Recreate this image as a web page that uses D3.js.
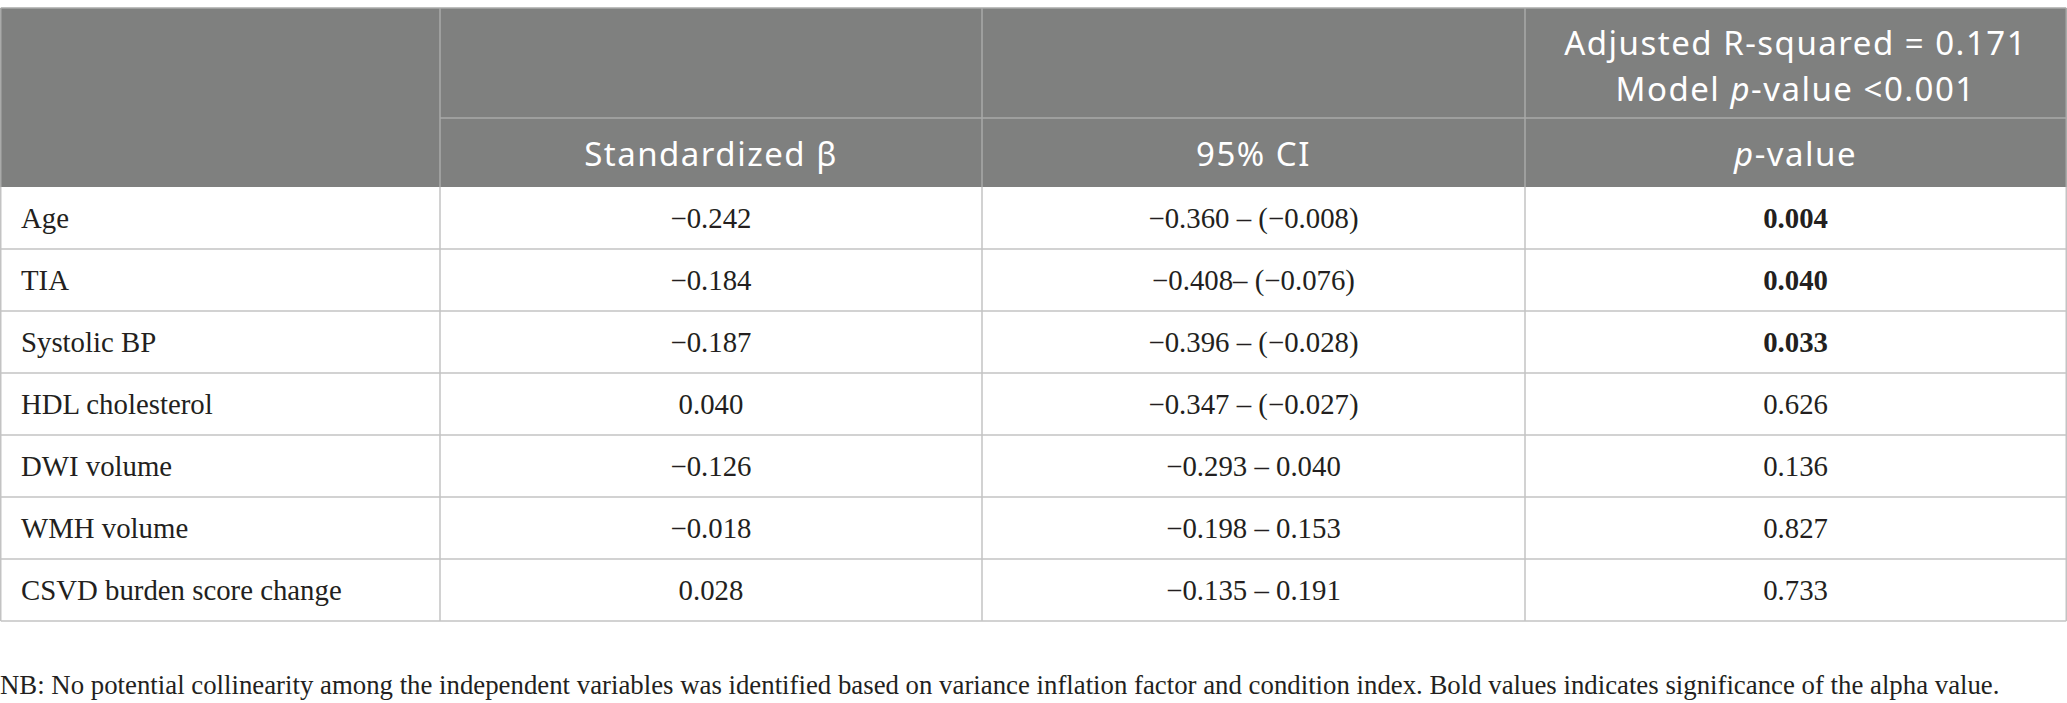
<!DOCTYPE html>
<html><head><meta charset="utf-8">
<script src="https://cdn.jsdelivr.net/npm/d3@7"></script>
<style>html,body{margin:0;padding:0;background:#fff;}svg{display:block;}</style>
</head><body>
<script>
// ---- data ----
const variables = ["Age", "TIA", "Systolic BP", "HDL cholesterol", "DWI volume", "WMH volume", "CSVD burden score change"];
const betas = [-0.242, -0.184, -0.187, 0.040, -0.126, -0.018, 0.028];
const ciLow = [-0.360, -0.408, -0.396, -0.347, -0.293, -0.198, -0.135];
const ciHigh = [-0.008, -0.076, -0.028, -0.027, 0.040, 0.153, 0.191];
const ciSep = [" – ", "– ", " – ", " – ", " – ", " – ", " – "];
const pValues = [0.004, 0.040, 0.033, 0.626, 0.136, 0.827, 0.733];
const headerTop = ["Adjusted R-squared = 0.171", "Model p-value <0.001"];
const columnHeaders = ["", "Standardized β", "95% CI", "p-value"];
const footnote = "NB: No potential collinearity among the independent variables was identified based on variance inflation factor and condition index. Bold values indicates significance of the alpha value.";

// ---- layout ----
const W = 2067, H = 703;
const colEdges = [0.75, 440, 982, 1525, 2066.25];
const tableTop = 8, head1Bottom = 118, headBottom = 187, tableBottom = 621;
const headFill = "#7f807f", headLine = "#a9aaa9", bodyLine = "#c3c3c3";
const sansFont = "'Noto Sans', 'Open Sans', sans-serif";
const serifFont = "'Liberation Serif', 'DejaVu Serif', serif";
const textColor = "#231f20";
const headSize = 33, headSpacing = 1.5;

const fmt = d3.format(".3f");
const ciText = i => {
  const lo = fmt(ciLow[i]);
  const hi = ciHigh[i] < 0 ? "(" + fmt(ciHigh[i]) + ")" : fmt(ciHigh[i]);
  return lo + ciSep[i] + hi;
};

const svg = d3.select("body").append("svg").attr("width", W).attr("height", H);

const y = d3.scaleBand().domain(variables).range([headBottom, tableBottom]);
const colMid = i => (colEdges[i] + colEdges[i + 1]) / 2;

// header background
svg.append("rect").attr("x", colEdges[0]).attr("y", tableTop)
  .attr("width", colEdges[4] - colEdges[0]).attr("height", headBottom - tableTop)
  .attr("fill", headFill);

// header lines
const hl = svg.append("g").attr("stroke", headLine).attr("stroke-width", 1.5);
hl.append("line").attr("x1", colEdges[1]).attr("x2", colEdges[4]).attr("y1", head1Bottom).attr("y2", head1Bottom);
[1, 2, 3].forEach(i => hl.append("line").attr("x1", colEdges[i]).attr("x2", colEdges[i]).attr("y1", tableTop).attr("y2", headBottom));

// header text
const ht = svg.append("g").attr("fill", "#fff").attr("font-family", sansFont)
  .attr("font-size", headSize).attr("letter-spacing", headSpacing).attr("text-anchor", "middle");
function fillRich(t, str) {
  const m = str.match(/^(.*?)(p)(-value.*)$/);
  if (m) {
    t.append("tspan").text(m[1]);
    t.append("tspan").attr("font-style", "italic").text(m[2]);
    t.append("tspan").text(m[3]);
  } else t.text(str);
}
const topText = ht.append("text").attr("y", 55);
headerTop.forEach((line, k) => {
  const ln = topText.append("tspan").attr("x", colMid(3)).attr("dy", k === 0 ? 0 : 45.5);
  fillRich(ln, line);
});
[1, 2, 3].forEach(i => {
  const t = ht.append("text").attr("x", colMid(i)).attr("y", 166);
  fillRich(t, columnHeaders[i]);
});

// body rows
const rows = svg.append("g").attr("font-family", serifFont).attr("font-size", 28.8).attr("fill", textColor);
const rowG = rows.selectAll("g").data(variables).join("g")
  .attr("transform", d => `translate(0,${y(d) + y.bandwidth() / 2 + 10})`);
rowG.append("text").attr("x", 21).text(d => d);
rowG.append("text").attr("x", colMid(1)).attr("text-anchor", "middle").text((d, i) => fmt(betas[i]));
rowG.append("text").attr("x", colMid(2)).attr("text-anchor", "middle").text((d, i) => ciText(i));
rowG.append("text").attr("x", colMid(3)).attr("text-anchor", "middle")
  .attr("font-weight", (d, i) => pValues[i] < 0.05 ? "bold" : null)
  .text((d, i) => fmt(pValues[i]));

// body lines
const bl = svg.append("g").attr("stroke", bodyLine).attr("stroke-width", 1.5);
bl.selectAll("line.h").data(variables).join("line").attr("class", "h")
  .attr("x1", colEdges[0]).attr("x2", colEdges[4])
  .attr("y1", d => y(d) + y.bandwidth()).attr("y2", d => y(d) + y.bandwidth());
colEdges.forEach(x => bl.append("line").attr("x1", x).attr("x2", x).attr("y1", headBottom).attr("y2", tableBottom));
// outer top border
svg.append("line").attr("x1", colEdges[0]).attr("x2", colEdges[4]).attr("y1", tableTop).attr("y2", tableTop)
  .attr("stroke", headLine).attr("stroke-width", 1.5);
[0, 4].forEach(i => svg.append("line").attr("x1", colEdges[i]).attr("x2", colEdges[i]).attr("y1", tableTop).attr("y2", headBottom)
  .attr("stroke", headLine).attr("stroke-width", 1.5));

// footnote
svg.append("text").attr("x", 0).attr("y", 694).attr("font-family", serifFont).attr("font-size", 26.8)
  .attr("fill", textColor).text(footnote);
</script>
</body></html>
